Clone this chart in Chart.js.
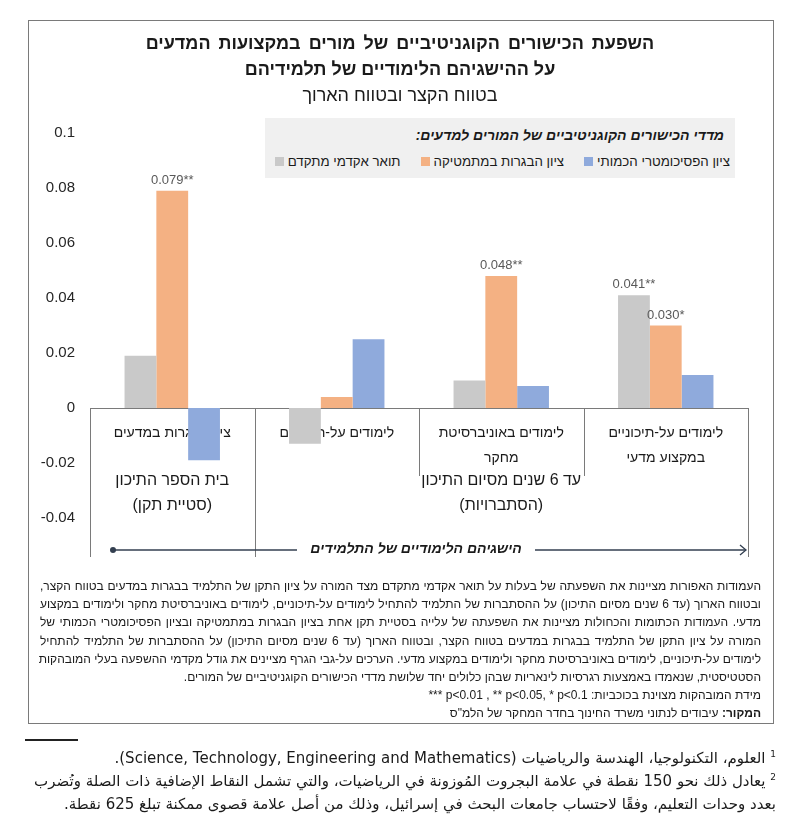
<!DOCTYPE html>
<html lang="he">
<head>
<meta charset="utf-8">
<script src="https://cdn.jsdelivr.net/npm/chart.js@4.4.1/dist/chart.umd.min.js"></script>
<style>
  html, body { margin:0; padding:0; background:#fff; }
  body { width:800px; height:829px; position:relative; overflow:hidden; font-family:"Liberation Sans", "DejaVu Sans", sans-serif; color:#1a1a1a; }
  .abs { position:absolute; }
  #frame { left:28px; top:20px; width:746px; height:704px; border:1px solid #7a7a7a; box-sizing:border-box; }
  #chartBox { left:0; top:0; width:800px; height:829px; }
  .title { left:0; width:800px; text-align:center; direction:rtl; white-space:nowrap; }
  #t1 { top:33px; font-size:18px; font-weight:bold; word-spacing:3px; }
  #t2 { top:59px; font-size:18px; font-weight:bold; }
  #t3 { top:85px; font-size:18px; }
  #legend { left:265px; top:118px; width:470px; height:60px; background:#f0f0f0; direction:rtl; }
  #legendTitle { position:absolute; right:11px; top:9px; font-size:14px; font-weight:bold; font-style:italic; white-space:nowrap; }
  #legendItems { position:absolute; right:5px; top:36px; font-size:13.3px; white-space:nowrap; display:flex; gap:20px; }
  .item { display:flex; align-items:center; gap:4px; }
  .sw { width:9px; height:9px; display:inline-block; }
  #arrowText { left:297px; width:238px; top:540px; text-align:center; font-size:14px; font-weight:bold; font-style:italic; direction:rtl; white-space:nowrap; }
  #notes { left:40px; top:577px; width:721px; font-size:12px; line-height:18.2px; direction:rtl; }
  #notes div { white-space:nowrap; }
  #notes .j { text-align:justify; text-align-last:justify; }
  #rule { left:25px; top:739px; width:53px; height:0; border-top:2px solid #222; }
  #foot { left:20px; width:756px; top:747px; font-size:15px; line-height:23px; direction:rtl; text-align:right; font-family:"DejaVu Sans", sans-serif; }
  #foot div { white-space:nowrap; }
  sup { font-size:9px; line-height:0; }
</style>
</head>
<body>
<div id="frame" class="abs"></div>
<div id="chartBox" class="abs"><canvas id="chart"></canvas></div>

<div id="t1" class="abs title">השפעת הכישורים הקוגניטיביים של מורים במקצועות המדעים</div>
<div id="t2" class="abs title">על ההישגיהם הלימודיים של תלמידיהם</div>
<div id="t3" class="abs title">בטווח הקצר ובטווח הארוך</div>

<div id="legend" class="abs">
  <div id="legendTitle">מדדי הכישורים הקוגניטיביים של המורים למדעים:</div>
  <div id="legendItems"></div>
</div>

<svg class="abs" style="left:0;top:0" width="800" height="829">
  <circle cx="113" cy="550" r="3" fill="#333f50"/>
  <line x1="113" y1="550" x2="297" y2="550" stroke="#333f50" stroke-width="1.3"/>
  <line x1="535" y1="550" x2="746" y2="550" stroke="#333f50" stroke-width="1.3"/>
  <polyline points="740,545 746,550 740,555" fill="none" stroke="#333f50" stroke-width="1.3"/>
</svg>
<div id="arrowText" class="abs">הישגיהם הלימודיים של התלמידים</div>

<div id="notes" class="abs">
  <div class="j">העמודות האפורות מציינות את השפעתה של בעלות על תואר אקדמי מתקדם מצד המורה על ציון התקן של התלמיד בבגרות במדעים בטווח הקצר,</div>
  <div class="j">ובטווח הארוך (עד 6 שנים מסיום התיכון) על ההסתברות של התלמיד להתחיל לימודים על-תיכוניים, לימודים באוניברסיטת מחקר ולימודים במקצוע</div>
  <div class="j">מדעי. העמודות הכתומות והכחולות מציינות את השפעתה של עלייה בסטיית תקן אחת בציון הבגרות במתמטיקה ובציון הפסיכומטרי הכמותי של</div>
  <div class="j">המורה על ציון התקן של התלמיד בבגרות במדעים בטווח הקצר, ובטווח הארוך (עד 6 שנים מסיום התיכון) על ההסתברות של התלמיד להתחיל</div>
  <div class="j">לימודים על-תיכוניים, לימודים באוניברסיטת מחקר ולימודים במקצוע מדעי. הערכים על-גבי הגרף מציינים את גודל מקדמי ההשפעה בעלי המובהקות</div>
  <div>הסטטיסטית, שנאמדו באמצעות רגרסיות לינאריות שבהן כלולים יחד שלושת מדדי הכישורים הקוגניטיביים של המורים.</div>
  <div>מידת המובהקות מצוינת בכוכביות: <bdi dir="ltr">*** p&lt;0.01 , ** p&lt;0.05, * p&lt;0.1</bdi></div>
  <div><b>המקור:</b> עיבודים לנתוני משרד החינוך בחדר המחקר של הלמ"ס</div>
</div>

<div id="rule" class="abs"></div>
<div id="foot" class="abs">
  <div><sup>1</sup> العلوم، التكنولوجيا، الهندسة والرياضيات (Science, Technology, Engineering and Mathematics).</div>
  <div><sup>2</sup> يعادل ذلك نحو 150 نقطة في علامة البجروت المُوزونة في الرياضيات، والتي تشمل النقاط الإضافية ذات الصلة وتُضرب</div>
  <div>بعدد وحدات التعليم، وفقًا لاحتساب جامعات البحث في إسرائيل، وذلك من أصل علامة قصوى ممكنة تبلغ 625 نقطة.</div>
</div>

<script>
// categories, left to right as drawn
const categories = [
  ["ציון הבגרות במדעים"],
  ["לימודים על-תיכוניים"],
  ["לימודים באוניברסיטת", "מחקר"],
  ["לימודים על-תיכוניים", "במקצוע מדעי"]
];

const seriesNames = ["תואר אקדמי מתקדם", "ציון הבגרות במתמטיקה", "ציון הפסיכומטרי הכמותי"];
const seriesColors = ["#c9c9c9", "#f4b183", "#8faadc"];

const degreeValues = [0.019, -0.013, 0.010, 0.041];
const matricValues = [0.079, 0.004, 0.048, 0.030];
const psychoValues = [-0.019, 0.025, 0.008, 0.012];

// significance labels shown above bars
const degreeLabels = ["", "", "", "0.041**"];
const matricLabels = ["0.079**", "", "0.048**", "0.030*"];
const psychoLabels = ["", "", "", ""];

const yTickLabels = ["-0.04", "-0.02", "0", "0.02", "0.04", "0.06", "0.08", "0.1"];

// second level of the x axis
const groupNames = ["בית הספר התיכון", "עד 6 שנים מסיום התיכון"];
const groupUnits = ["(סטיית תקן)", "(הסתברויות)"];
const groupFrom = [0, 1];
const groupTo = [0, 3];

// legend is right to left: psycho, matric, degree
const legendEl = document.getElementById("legendItems");
[2, 1, 0].forEach(i => {
  const it = document.createElement("div");
  it.className = "item";
  it.innerHTML = `<span>${seriesNames[i]}</span><span class="sw" style="background:${seriesColors[i]}"></span>`;
  legendEl.appendChild(it);
});

const barLabels = {
  id: "barLabels",
  afterDatasetsDraw(chart) {
    const { ctx } = chart;
    const all = [degreeLabels, matricLabels, psychoLabels];
    ctx.save();
    ctx.font = "13px 'Liberation Sans', sans-serif";
    ctx.fillStyle = "#595959";
    ctx.textAlign = "center";
    ctx.textBaseline = "bottom";
    chart.data.datasets.forEach((ds, di) => {
      chart.getDatasetMeta(di).data.forEach((bar, i) => {
        const txt = all[di][i];
        if (txt) ctx.fillText(txt, bar.x, bar.y - 4);
      });
    });
    ctx.restore();
  }
};

const axisFrame = {
  id: "axisFrame",
  afterDraw(chart) {
    const { ctx } = chart;
    const x = chart.scales.x, y = chart.scales.y;
    const y0 = y.getPixelForValue(0);
    const half = (x.getPixelForValue(1) - x.getPixelForValue(0)) / 2;
    ctx.save();
    ctx.strokeStyle = "#7a7a7a";
    ctx.lineWidth = 1;
    for (let i = 0; i <= categories.length; i++) {
      const px = Math.round(x.getPixelForValue(0) - half + i * 2 * half) + 0.5;
      const isEdge = groupFrom.includes(i) || i === categories.length;
      ctx.beginPath();
      ctx.moveTo(px, y0);
      ctx.lineTo(px, y0 + (isEdge ? 149 : 68));
      ctx.stroke();
    }
    ctx.fillStyle = "#1a1a1a";
    ctx.textAlign = "center";
    ctx.textBaseline = "middle";
    ctx.font = "16px 'Liberation Sans', sans-serif";
    groupNames.forEach((g, k) => {
      const cx = (x.getPixelForValue(groupFrom[k]) + x.getPixelForValue(groupTo[k])) / 2;
      ctx.fillText(g, cx, y0 + 73);
      ctx.fillText(groupUnits[k], cx, y0 + 98);
    });
    ctx.restore();
  }
};

new Chart(document.getElementById("chart"), {
  type: "bar",
  data: {
    labels: categories,
    datasets: [
      { label: seriesNames[0], data: degreeValues, backgroundColor: seriesColors[0] },
      { label: seriesNames[1], data: matricValues, backgroundColor: seriesColors[1] },
      { label: seriesNames[2], data: psychoValues, backgroundColor: seriesColors[2] }
    ]
  },
  options: {
    responsive: true,
    maintainAspectRatio: false,
    animation: false,
    layout: { padding: { left: 28, right: 52, top: 133, bottom: 311 } },
    datasets: { bar: { categoryPercentage: 0.58, barPercentage: 1 } },
    plugins: { legend: { display: false }, tooltip: { enabled: false } },
    scales: {
      x: {
        position: { y: 0 },
        z: 1,
        grid: { display: false },
        border: { color: "#7a7a7a" },
        ticks: { color: "#1a1a1a", padding: 5, font: { size: 14, family: "Liberation Sans", lineHeight: 1.75 } }
      },
      y: {
        min: -0.04,
        max: 0.1,
        grid: { display: false },
        border: { display: false },
        afterFit: s => { s.width = 62; },
        ticks: {
          stepSize: 0.02,
          padding: 7,
          color: "#262626",
          font: { size: 15, family: "Liberation Sans" },
          callback: (v, i) => yTickLabels[i] ?? v
        }
      }
    }
  },
  plugins: [barLabels, axisFrame]
});
</script>
</body>
</html>
